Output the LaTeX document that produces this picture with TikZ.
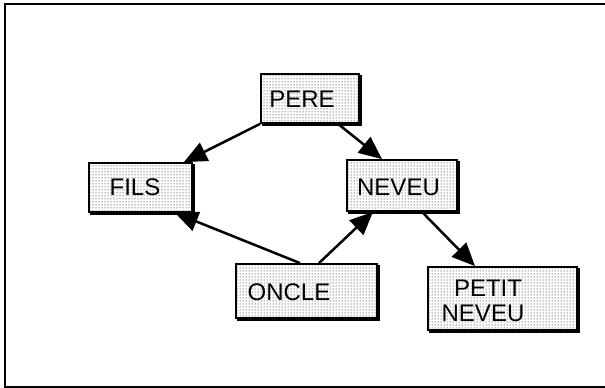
\documentclass[tikz,border=0pt]{standalone}
\usepackage{fontspec}
\setmainfont{Liberation Sans}
\usetikzlibrary{arrows.meta,patterns,calc}
\begin{document}
\begin{tikzpicture}[x=1pt,y=-1pt,
  box/.style={draw=black,line width=1.8pt,fill=white,inner sep=0pt,
    postaction={pattern=dots,pattern color=black}},
  lbl/.style={font=\fontsize{24}{27}\selectfont,inner sep=0pt,anchor=base},
  arr/.style={line width=2.5pt,-{Triangle[length=23pt,width=20pt]}}]
\useasboundingbox (0,0) rectangle (605,388);
\draw[line width=2.5pt] (612,4) -- (5,4) -- (5,387) -- (612,387);
% boxes
\node[box,minimum width=98pt,minimum height=49pt] (pere) at (310,98.5) {};
\node[box,minimum width=103pt,minimum height=49pt] (fils) at (140.5,187.5) {};
\node[box,minimum width=110pt,minimum height=51pt] (neveu) at (402,185.5) {};
\node[box,minimum width=141pt,minimum height=54pt] (oncle) at (306.5,291) {};
\node[box,minimum width=149pt,minimum height=63pt] (petit) at (502.5,298.5) {};
% shadows
\foreach \n in {pere,fils,neveu,oncle,petit}{
  \draw[line width=1.8pt] ($(\n.south west)+(1.5,1.3)$) -- ($(\n.south east)+(1.3,1.3)$) -- ($(\n.north east)+(1.3,1.5)$);
}
% labels
\node[lbl] (perel) at (302,107.5) {PERE};
\node[lbl] (filsl) at (135,195.5) {FILS};
\node[lbl] (neveul) at (398.5,195.5) {NEVEU};
\node[lbl] (onclel) at (289,300.5) {ONCLE};
\node[lbl] (petitl) at (488,296.5) {PETIT};
\node[lbl] (petitl2) at (483,321.5) {NEVEU};
% arrows
\draw[arr] (pere.south west) -- ($(fils.north east)+(-9,0)$);
\draw[arr] ($(pere.south)+(28,0)$) -- ($(neveu.north)+(-20,0)$);
\draw[arr] ($(oncle.north)+(-6.5,0)$) -- ($(fils.south)+(34.5,0)$);
\draw[arr] ($(oncle.north)+(12.5,0)$) -- ($(neveu.south)+(-29,0)$);
\draw[arr] ($(neveu.south)+(20,0)$) -- ($(petit.north)+(-27.5,0)$);
\end{tikzpicture}
\end{document}
